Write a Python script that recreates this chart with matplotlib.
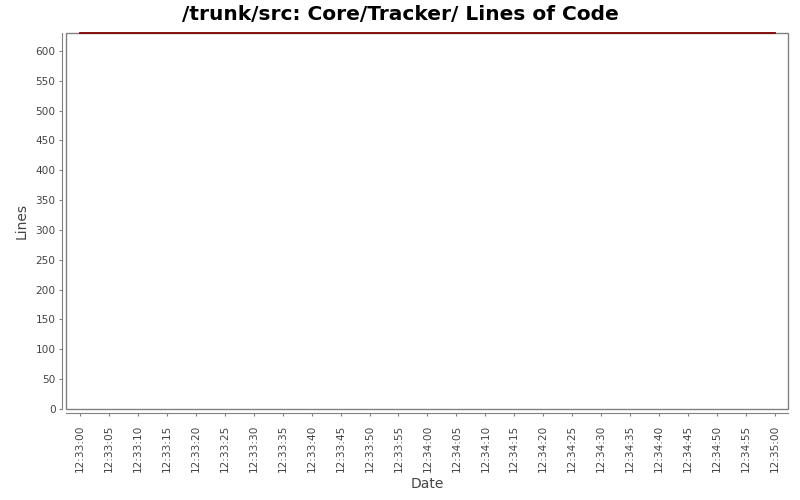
import matplotlib
matplotlib.use("Agg")
import matplotlib.pyplot as plt
import matplotlib.dates as mdates
from matplotlib.patches import Rectangle
import pandas as pd

# data
dates = ["2000-01-01 12:33:00", "2000-01-01 12:35:00"]
lines = [630, 630]
y_ticks = list(range(0, 601, 50))

times = pd.to_datetime(dates)

fig = plt.figure(figsize=(8, 5), dpi=100)
ax = fig.add_axes([66 / 800, 1 - 409 / 500, (788 - 66) / 800, (409 - 33) / 500])

ax.plot(times, lines, color="#800000", linewidth=1.3, clip_on=False, zorder=3)

# axis ranges (a bit of margin on the time axis like the original)
pad_l = pd.Timedelta(seconds=2.4)
pad_r = pd.Timedelta(seconds=2.25)
ax.set_xlim(times[0] - pad_l, times[-1] + pad_r)
ax.set_ylim(0, 630)

ax.set_yticks(y_ticks)
ax.xaxis.set_major_locator(mdates.SecondLocator(bysecond=range(0, 60, 5)))
ax.xaxis.set_major_formatter(mdates.DateFormatter("%H:%M:%S"))

gray = "#808080"
for side in ["top", "right"]:
    ax.spines[side].set_visible(False)
for side in ["left", "bottom"]:
    ax.spines[side].set_position(("outward", 3))
    ax.spines[side].set_color(gray)
ax.add_patch(Rectangle((0, 0), 1, 1, transform=ax.transAxes, fill=False,
                       edgecolor=gray, linewidth=1.0, clip_on=False, zorder=0))

ax.tick_params(axis="both", colors=gray, labelcolor="#444444", labelsize=7.6,
               length=2.5, width=0.8)
ax.tick_params(axis="y", pad=2)
ax.tick_params(axis="x", labelrotation=90, pad=6)

ax.set_ylabel("Lines", fontsize=10, color="#444444", labelpad=5)
ax.set_xlabel("Date", fontsize=10, color="#444444", labelpad=3)
fig.text(0.5, 1 - 14 / 500, "/trunk/src: Core/Tracker/ Lines of Code",
         ha="center", va="center", fontsize=14.5, fontweight="bold", color="black")

fig.savefig("out.png", dpi=100)
